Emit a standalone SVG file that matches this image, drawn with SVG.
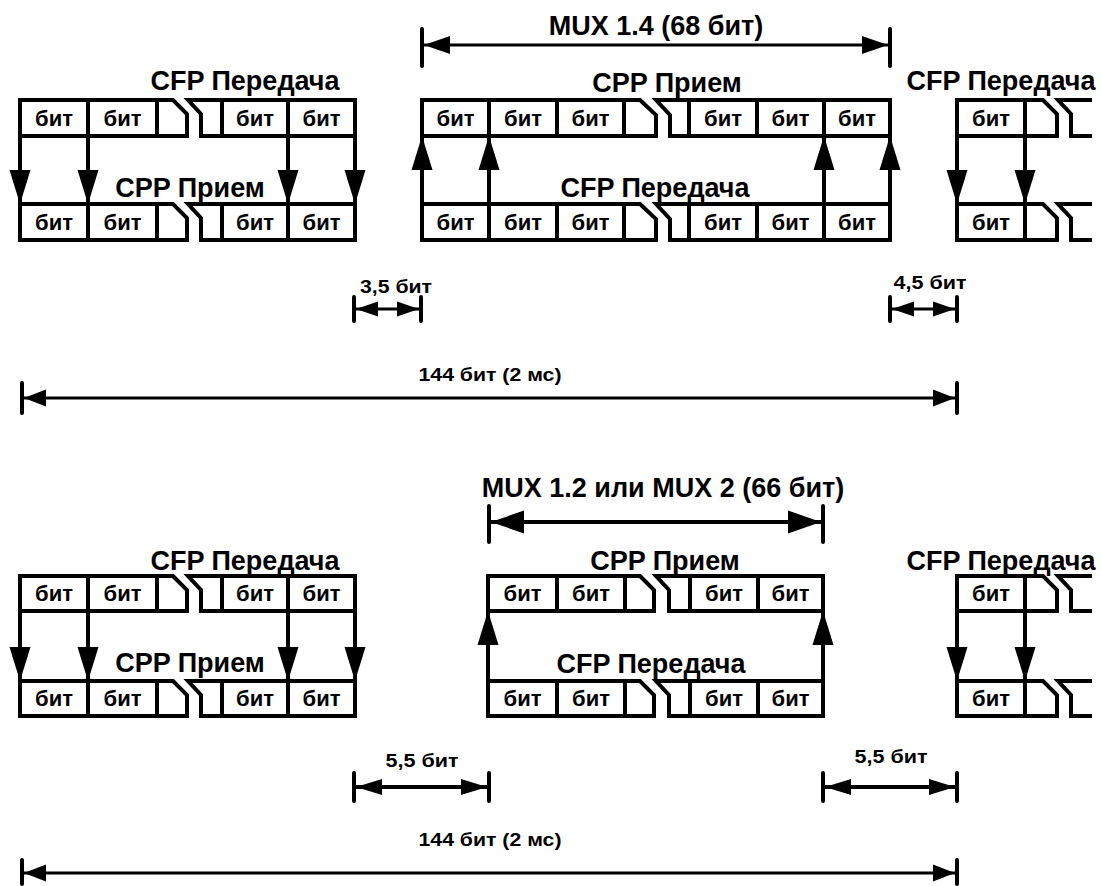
<svg xmlns="http://www.w3.org/2000/svg" width="1101" height="886" viewBox="0 0 1101 886">
<style>
.bx{fill:none;stroke:#000;stroke-width:4;stroke-linejoin:miter}
.ar{fill:none;stroke:#000;stroke-width:4}
.dm{fill:none;stroke:#000;stroke-width:3}
.bar{fill:none;stroke:#000;stroke-width:4;stroke-linecap:round}
text{font-family:"Liberation Sans",Arial,sans-serif;font-weight:bold;text-anchor:middle;fill:#000}
.h{font-size:27px}
.b{font-size:22px}
.s{font-size:19px}
</style>
<defs>
<marker id="va" markerUnits="userSpaceOnUse" markerWidth="34" markerHeight="22" refX="34" refY="10.5" orient="auto" overflow="visible"><path d="M0,0 L34,10.5 L0,21 Z" fill="#000"/></marker>
<marker id="ds" markerUnits="userSpaceOnUse" markerWidth="22" markerHeight="15" refX="22" refY="7.5" orient="auto-start-reverse" overflow="visible"><path d="M0,0 L22,7.5 L0,15 Z" fill="#000"/></marker>
<marker id="dl" markerUnits="userSpaceOnUse" markerWidth="22" markerHeight="17" refX="22" refY="8.5" orient="auto-start-reverse" overflow="visible"><path d="M0,0 L22,8.5 L0,17 Z" fill="#000"/></marker>
<marker id="dt" markerUnits="userSpaceOnUse" markerWidth="26" markerHeight="18" refX="26" refY="9" orient="auto-start-reverse" overflow="visible"><path d="M0,0 L26,9 L0,18 Z" fill="#000"/></marker>
<marker id="db" markerUnits="userSpaceOnUse" markerWidth="33" markerHeight="23" refX="33" refY="11.5" orient="auto-start-reverse" overflow="visible"><path d="M0,0 L33,11.5 L0,23 Z" fill="#000"/></marker>
<marker id="dm5" markerUnits="userSpaceOnUse" markerWidth="26" markerHeight="16" refX="26" refY="8" orient="auto-start-reverse" overflow="visible"><path d="M0,0 L26,8 L0,16 Z" fill="#000"/></marker>
</defs>

<!-- ===== TOP SECTION ===== -->
<g id="top-left-cfp-tx">
<text class="h" x="245" y="90">CFP Передача</text>
<path class="bx" d="M20,100 H173 L187,114 V136 H20 Z M88,100 V136 M157,100 V136 M188,100 H355 V136 H201 V114 Z M222,100 V136 M288,100 V136"/>
<text class="b" x="54" y="126">бит</text><text class="b" x="122.5" y="126">бит</text><text class="b" x="255" y="126">бит</text><text class="b" x="321.5" y="126">бит</text>
</g>
<g id="top-left-cpp-rx">
<text class="h" x="190" y="197">CPP Прием</text>
<path class="bx" d="M20,204 H173 L187,218 V240 H20 Z M88,204 V240 M157,204 V240 M188,204 H355 V240 H201 V218 Z M222,204 V240 M288,204 V240"/>
<text class="b" x="54" y="230">бит</text><text class="b" x="122.5" y="230">бит</text><text class="b" x="255" y="230">бит</text><text class="b" x="321.5" y="230">бит</text>
</g>
<g id="top-mid-cpp-rx">
<text class="h" x="667" y="92">CPP Прием</text>
<path class="bx" d="M422,100 H640 L656,115 V136 H422 Z M489,100 V136 M557,100 V136 M624,100 V136 M656,100 H890 V136 H670 V115 Z M689,100 V136 M757,100 V136 M824,100 V136"/>
<text class="b" x="455.5" y="126">бит</text><text class="b" x="523" y="126">бит</text><text class="b" x="590.5" y="126">бит</text><text class="b" x="723" y="126">бит</text><text class="b" x="790.5" y="126">бит</text><text class="b" x="857" y="126">бит</text>
</g>
<g id="top-mid-cfp-tx">
<text class="h" x="655" y="197">CFP Передача</text>
<path class="bx" d="M422,204 H640 L656,219 V240 H422 Z M489,204 V240 M557,204 V240 M624,204 V240 M656,204 H890 V240 H670 V219 Z M689,204 V240 M757,204 V240 M824,204 V240"/>
<text class="b" x="455.5" y="230">бит</text><text class="b" x="523" y="230">бит</text><text class="b" x="590.5" y="230">бит</text><text class="b" x="723" y="230">бит</text><text class="b" x="790.5" y="230">бит</text><text class="b" x="857" y="230">бит</text>
</g>
<g id="top-right-cfp-tx">
<text class="h" x="1001" y="90">CFP Передача</text>
<path class="bx" d="M957,100 H1043 L1057,114 V136 H957 Z M1025,100 V136 M1092,100 H1058 L1071,114 V136 H1092"/>
<text class="b" x="991" y="126">бит</text>
</g>
<g id="top-right-rx">
<path class="bx" d="M957,204 H1043 L1057,218 V240 H957 Z M1025,204 V240 M1092,204 H1058 L1071,218 V240 H1092"/>
<text class="b" x="991" y="230">бит</text>
</g>

<!-- ===== BOTTOM SECTION ===== -->
<g id="bot-left-cfp-tx">
<text class="h" x="245" y="570">CFP Передача</text>
<path class="bx" d="M20,576 H173 L187,590 V611 H20 Z M88,576 V611 M157,576 V611 M188,576 H355 V611 H201 V590 Z M222,576 V611 M288,576 V611"/>
<text class="b" x="54" y="601">бит</text><text class="b" x="122.5" y="601">бит</text><text class="b" x="255" y="601">бит</text><text class="b" x="321.5" y="601">бит</text>
</g>
<g id="bot-left-cpp-rx">
<text class="h" x="190" y="672">CPP Прием</text>
<path class="bx" d="M20,681 H173 L187,695 V716 H20 Z M88,681 V716 M157,681 V716 M188,681 H355 V716 H201 V695 Z M222,681 V716 M288,681 V716"/>
<text class="b" x="54" y="706">бит</text><text class="b" x="122.5" y="706">бит</text><text class="b" x="255" y="706">бит</text><text class="b" x="321.5" y="706">бит</text>
</g>
<g id="bot-mid-cpp-rx">
<text class="h" x="665" y="570">CPP Прием</text>
<path class="bx" d="M488,576 H640 L654,590 V611 H488 Z M557,576 V611 M625,576 V611 M656,576 H823 V611 H669 V590 Z M690,576 V611 M758,576 V611"/>
<text class="b" x="522.5" y="601">бит</text><text class="b" x="591" y="601">бит</text><text class="b" x="724" y="601">бит</text><text class="b" x="790.5" y="601">бит</text>
</g>
<g id="bot-mid-cfp-tx">
<text class="h" x="651" y="673">CFP Передача</text>
<path class="bx" d="M488,681 H640 L654,695 V716 H488 Z M557,681 V716 M625,681 V716 M656,681 H823 V716 H669 V695 Z M690,681 V716 M758,681 V716"/>
<text class="b" x="522.5" y="706">бит</text><text class="b" x="591" y="706">бит</text><text class="b" x="724" y="706">бит</text><text class="b" x="790.5" y="706">бит</text>
</g>
<g id="bot-right-cfp-tx">
<text class="h" x="1001" y="570">CFP Передача</text>
<path class="bx" d="M957,576 H1043 L1057,590 V611 H957 Z M1025,576 V611 M1092,576 H1058 L1071,590 V611 H1092"/>
<text class="b" x="991" y="601">бит</text>
</g>
<g id="bot-right-rx">
<path class="bx" d="M957,681 H1043 L1057,695 V716 H957 Z M1025,681 V716 M1092,681 H1058 L1071,695 V716 H1092"/>
<text class="b" x="991" y="706">бит</text>
</g>

<!-- ===== CONNECTORS ===== -->
<g id="connectors">
<path class="ar" d="M20,136 V204" marker-end="url(#va)"/>
<path class="ar" d="M88,136 V204" marker-end="url(#va)"/>
<path class="ar" d="M288,136 V204" marker-end="url(#va)"/>
<path class="ar" d="M355,136 V204" marker-end="url(#va)"/>
<path class="ar" d="M422,204 V136" marker-end="url(#va)"/>
<path class="ar" d="M489,204 V136" marker-end="url(#va)"/>
<path class="ar" d="M824,204 V136" marker-end="url(#va)"/>
<path class="ar" d="M890,204 V136" marker-end="url(#va)"/>
<path class="ar" d="M957,136 V204" marker-end="url(#va)"/>
<path class="ar" d="M1025,136 V204" marker-end="url(#va)"/>
<path class="ar" d="M20,611 V681" marker-end="url(#va)"/>
<path class="ar" d="M88,611 V681" marker-end="url(#va)"/>
<path class="ar" d="M288,611 V681" marker-end="url(#va)"/>
<path class="ar" d="M355,611 V681" marker-end="url(#va)"/>
<path class="ar" d="M488,681 V611" marker-end="url(#va)"/>
<path class="ar" d="M823,681 V611" marker-end="url(#va)"/>
<path class="ar" d="M957,611 V681" marker-end="url(#va)"/>
<path class="ar" d="M1025,611 V681" marker-end="url(#va)"/>

<text class="h" x="656" y="35">MUX 1.4 (68 бит)</text>
<path class="bar" d="M422,29 V66 M890,29 V66"/>
<path class="dm" d="M424,45 H888" marker-start="url(#dt)" marker-end="url(#dt)"/>
<text class="s" x="396" y="293" textLength="72" lengthAdjust="spacingAndGlyphs">3,5 бит</text>
<path class="bar" d="M354,297 V321 M421,297 V321"/>
<path class="dm" d="M356,309 H419" marker-start="url(#ds)" marker-end="url(#ds)"/>
<text class="s" x="930" y="289" textLength="73" lengthAdjust="spacingAndGlyphs">4,5 бит</text>
<path class="bar" d="M890,297 V321 M957,297 V321"/>
<path class="dm" d="M892,309 H955" marker-start="url(#ds)" marker-end="url(#ds)"/>
<text class="s" x="490" y="381" textLength="143" lengthAdjust="spacingAndGlyphs">144 бит (2 мс)</text>
<path class="bar" d="M22,383 V413 M957,383 V413"/>
<path class="dm" d="M24,398 H955" marker-start="url(#dl)" marker-end="url(#dl)"/>

<text class="h" x="663" y="497">MUX 1.2 или MUX 2 (66 бит)</text>
<path class="bar" d="M489,506 V542 M823,506 V542"/>
<path class="ar" d="M491,522 H821" stroke-width="4.5" marker-start="url(#db)" marker-end="url(#db)"/>
<text class="s" x="422" y="767" textLength="73" lengthAdjust="spacingAndGlyphs">5,5 бит</text>
<path class="bar" d="M354,773 V801 M489,773 V801"/>
<path class="ar" d="M356,787 H487" marker-start="url(#dm5)" marker-end="url(#dm5)"/>
<text class="s" x="891" y="763" textLength="73" lengthAdjust="spacingAndGlyphs">5,5 бит</text>
<path class="bar" d="M823,773 V801 M957,773 V801"/>
<path class="ar" d="M825,787 H955" marker-start="url(#dm5)" marker-end="url(#dm5)"/>
<text class="s" x="490" y="846" textLength="143" lengthAdjust="spacingAndGlyphs">144 бит (2 мс)</text>
<path class="bar" d="M22,860 V884 M957,860 V884"/>
<path class="dm" d="M24,873 H955" marker-start="url(#dl)" marker-end="url(#dl)"/>
</g>
</svg>
